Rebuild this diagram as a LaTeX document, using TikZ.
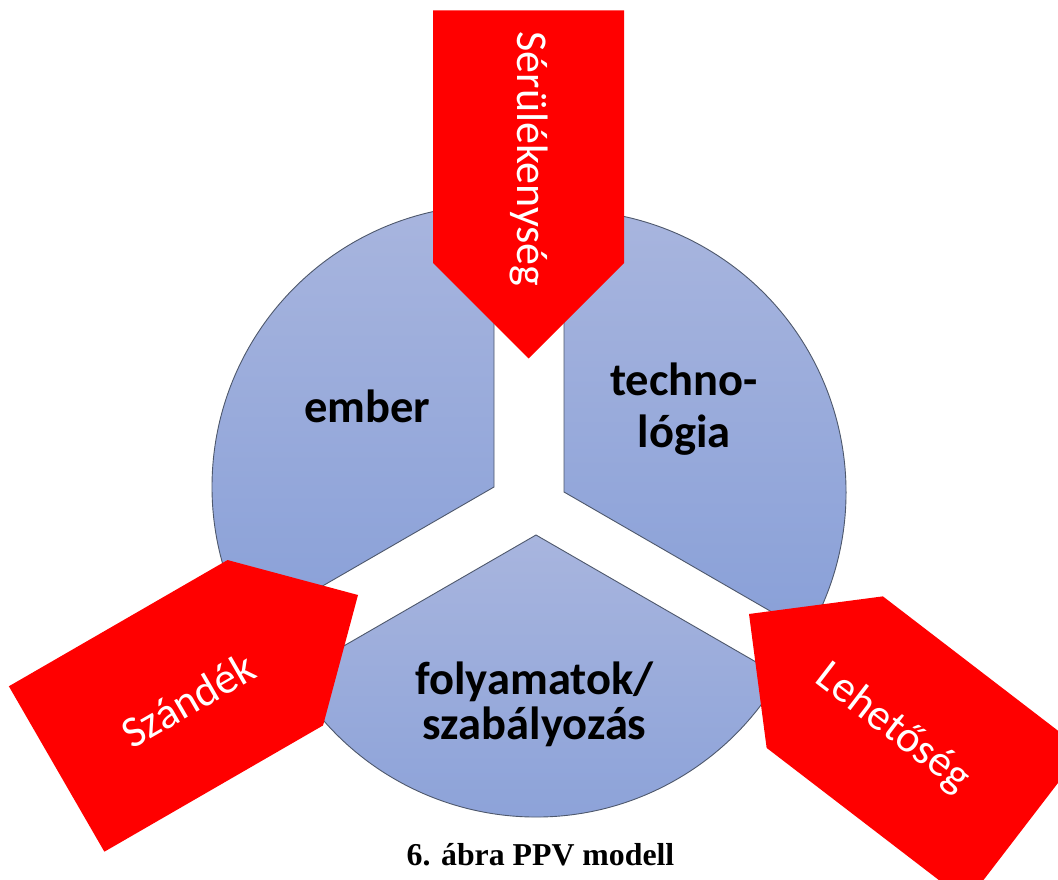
\documentclass[tikz,border=0pt]{standalone}
\usepackage{fontspec}
\setmainfont{Liberation Serif}
\newfontfamily\labelfont{Carlito}
\definecolor{secTop}{RGB}{168,181,222}
\definecolor{secBot}{RGB}{137,160,216}
\definecolor{secLine}{RGB}{78,88,108}
\definecolor{arrRed}{RGB}{255,0,0}
\tikzset{
  sector/.style={top color=secTop, bottom color=secBot, draw=secLine, line width=0.9pt},
  arrowtext/.style={text=white, inner sep=0pt, font=\labelfont\fontsize{44}{48}\selectfont},
  seglabel/.style={text=black, inner sep=0pt, anchor=base, font=\labelfont\bfseries\fontsize{46.5}{50}\selectfont},
  pics/pentarrow/.style={code={
    \fill[arrRed] (0,0) -- (-95.5,95.5) -- (-348,95.5) -- (-348,-95.5) -- (-95.5,-95.5) -- cycle;
  }}
}
\begin{document}
\begin{tikzpicture}[x=1pt,y=1pt]
  \useasboundingbox (0,0) rectangle (1058,879);
  \fill[white] (0,0) rectangle (1058,879);
  \clip (0,0) rectangle (1058,879);

  % three exploded 120-degree segments
  \path[sector] (494,392) -- ++(90:282) arc (90:210:282) -- cycle;
  \path[sector] (564,387) -- ++(-30:282) arc (-30:90:282) -- cycle;
  \path[sector] (536,344) -- ++(210:282) arc (210:330:282) -- cycle;

  % red pointers aimed at the centre
  \pic[rotate=-90] at (528.5,520.5) {pentarrow};
  \pic[rotate=30] at (358,284) {pentarrow};
  \pic[rotate=142.5] at (749,265) {pentarrow};

  \node[arrowtext, rotate=-90] (vuln) at (528.5,720) {Sérülékenység};
  \node[arrowtext, rotate=30] (intent) at (188,179) {Szándék};
  \node[arrowtext, rotate=-37.5] (chance) at (893,151) {Lehetőség};

  % segment labels
  \node[seglabel] (people) at (367.5,456) {ember};
  \node[seglabel] (tech1) at (684,483) {techno-};
  \node[seglabel] (tech2) at (684,431.5) {lógia};
  \node[seglabel] (proc1) at (534.5,185) {folyamatok/};
  \node[seglabel] (proc2) at (534.5,140) {szabályozás};

  % caption
  \node[anchor=base, inner sep=0pt, font=\bfseries\fontsize{31.8}{36}\selectfont] (caption) at (540.5,14) {6. ábra PPV modell};
\end{tikzpicture}
\end{document}
